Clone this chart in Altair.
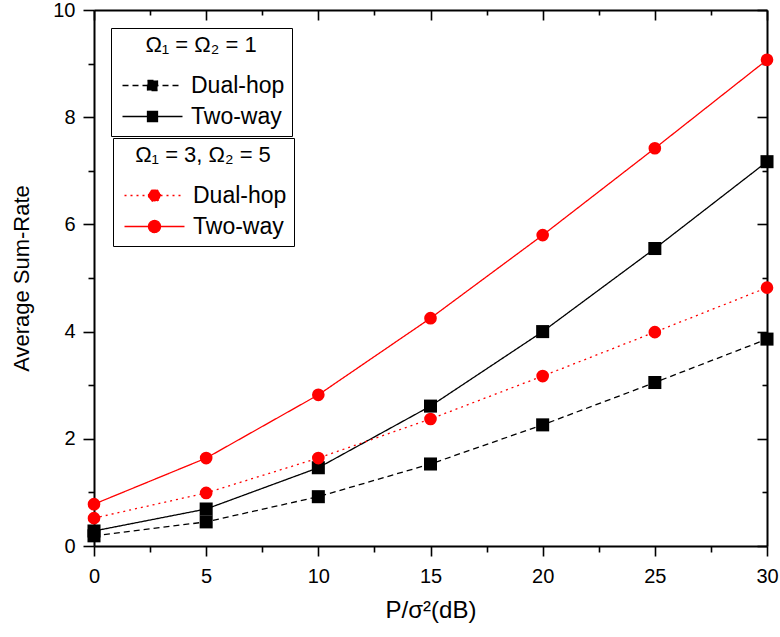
import altair as alt
import pandas as pd

# ---- data ----
x_db = [0, 5, 10, 15, 20, 25, 30]
black_dual = [0.19, 0.45, 0.92, 1.53, 2.26, 3.05, 3.86]
black_two = [0.28, 0.69, 1.46, 2.61, 4.00, 5.55, 7.17]
red_dual = [0.52, 0.99, 1.64, 2.37, 3.17, 3.99, 4.82]
red_two = [0.78, 1.64, 2.82, 4.25, 5.80, 7.42, 9.07]
series_names = ["Dual-hop", "Two-way"]
group_titles = ["Ω₁ = Ω₂ = 1", "Ω₁ = 3, Ω₂ = 5"]
x_ticks = [0, 2.5, 5, 7.5, 10, 12.5, 15, 17.5, 20, 22.5, 25, 27.5, 30]
y_ticks = [0, 1, 2, 3, 4, 5, 6, 7, 8, 9, 10]

rows = []
for g, (d, t) in enumerate([(black_dual, black_two), (red_dual, red_two)]):
    for name, vals in zip(series_names, (d, t)):
        for xv, yv in zip(x_db, vals):
            rows.append({"group": g, "series": name, "x": xv, "y": yv})
df = pd.DataFrame(rows)

FONT = "Liberation Sans"
xs = alt.Scale(domain=[0, 30], nice=False, zero=False)
ys = alt.Scale(domain=[0, 10], nice=False)

x_bottom = alt.Axis(
    orient="bottom", values=x_ticks,
    labelExpr="datum.value % 5 === 0 ? datum.label : ''",
    tickSize={"condition": {"test": "datum.value % 5 === 0", "value": 10}, "value": 6},
    grid=False, labelFontSize=20, titleFontSize=24, labelPadding=10, titlePadding=12,
    labelFlush=False,
)
y_left = alt.Axis(
    orient="left", values=y_ticks,
    labelExpr="datum.value % 2 === 0 ? datum.label : ''",
    tickSize={"condition": {"test": "datum.value % 2 === 0", "value": 11}, "value": 6},
    grid=False, labelFontSize=20, titleFontSize=22, labelPadding=8, titlePadding=19,
    labelFlush=False,
)
x_top = alt.Axis(
    orient="top", values=x_ticks, labels=False, title=None, grid=False,
    tickSize={"condition": {"test": "datum.value % 5 === 0", "value": -10}, "value": -5},
)
y_right = alt.Axis(
    orient="right", values=y_ticks, labels=False, title=None, grid=False,
    tickSize={"condition": {"test": "datum.value % 2 === 0", "value": -10}, "value": -5},
)

# legend glyphs: a 60px line with a marker in its middle (unit = 7px)
sq_path = "M-1,0L7.571,0M2.572,-0.714L4,-0.714L4,0.714L2.572,0.714Z"
ci_path = "M-1,0L7.571,0M2.429,0a0.857,0.857 0 1,0 1.714,0a0.857,0.857 0 1,0 -1.714,0Z"


def make_legend(title, color, path, lx, ly):
    return alt.Legend(
        title=title, orient="none", legendX=lx, legendY=ly,
        symbolType=path, symbolSize=196, symbolStrokeWidth=1.3,
        symbolStrokeColor=color, symbolFillColor=color, symbolOpacity=1,
        strokeColor="black", padding=7, titleAnchor="middle",
        titleFontSize=22, titleFontWeight="normal", labelFontSize=23,
        labelOffset=50, rowPadding=7, titlePadding=17,
        titleFont=FONT, labelFont=FONT, titleColor="black", labelColor="black",
    )


def group_layers(g, color, shape, size, dashes, legend):
    sub = alt.Chart(df).transform_filter(f"datum.group === {g}")
    if g == 0:
        xenc = alt.X("x:Q", scale=xs, axis=x_bottom, title="P/σ²(dB)")
        yenc = alt.Y("y:Q", scale=ys, axis=y_left, title="Average Sum-Rate")
    else:
        xenc = alt.X("x:Q", scale=xs, axis=None)
        yenc = alt.Y("y:Q", scale=ys, axis=None)
    line = sub.mark_line(color=color, strokeWidth=1.3).encode(
        x=xenc, y=yenc,
        strokeDash=alt.StrokeDash(
            "series:N",
            scale=alt.Scale(domain=series_names, range=dashes),
            legend=legend,
        ),
    )
    pts = sub.mark_point(shape=shape, filled=True, size=size, color=color, opacity=1).encode(
        x=alt.X("x:Q", scale=xs, axis=None),
        y=alt.Y("y:Q", scale=ys, axis=None),
        detail="series:N",
    )
    return [line, pts]


black = group_layers(0, "black", "square", 170, [[6, 4], [1, 0]],
                     make_legend(group_titles[0], "black", sq_path, 17, 18))
red = group_layers(1, "#ff0000", "circle", 160, [[2, 4], [1, 0]],
                   make_legend(group_titles[1], "#ff0000", ci_path, 19, 128))

frame = alt.Chart(df).mark_point(opacity=0).encode(
    x=alt.X("x:Q", scale=xs, axis=x_top),
    y=alt.Y("y:Q", scale=ys, axis=y_right),
)

chart = (
    alt.layer(*black, *red, frame)
    .resolve_scale(strokeDash="independent")
    .resolve_axis(x="independent", y="independent")
    .properties(
        width=673, height=536,
        autosize=alt.AutoSizeParams(type="none"),
        padding={"left": 94, "top": 10, "right": 13, "bottom": 91},
        background="white",
    )
    .configure_view(stroke=None)
    .configure_axis(
        domainColor="black", domainWidth=2, tickColor="black", tickWidth=1.6,
        labelColor="black", titleColor="black", labelFont=FONT, titleFont=FONT,
        titleFontWeight="normal",
    )
)

chart.save("out.html", embed_options={"renderer": "svg", "actions": False})
